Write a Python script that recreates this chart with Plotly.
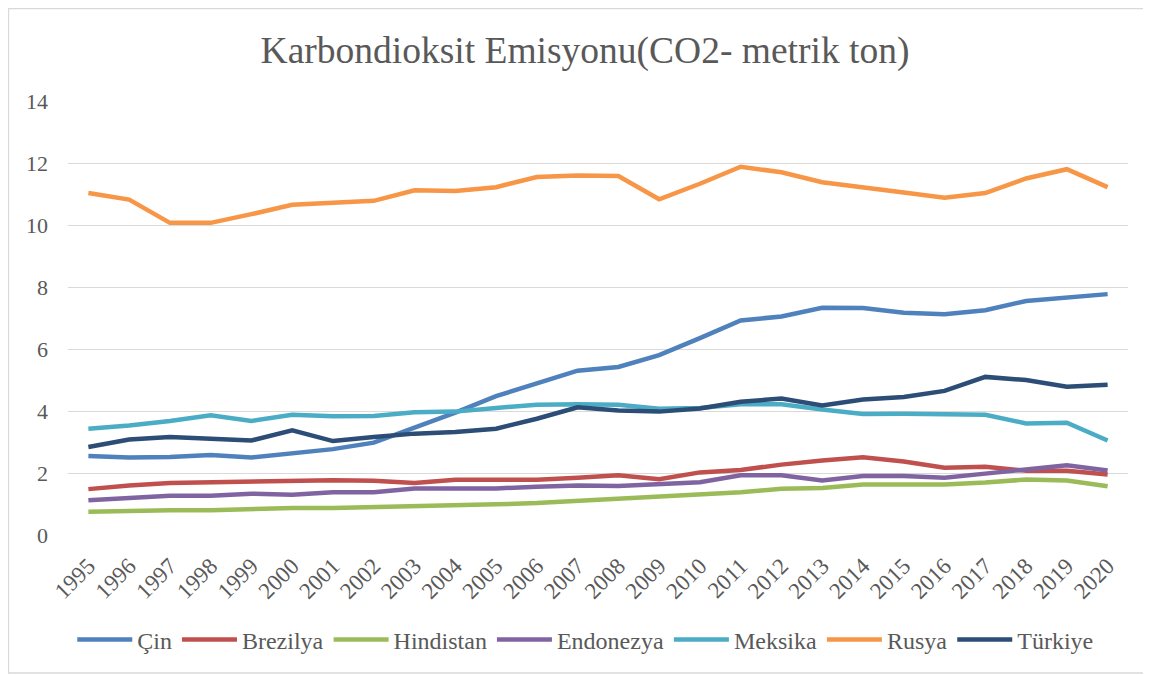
import plotly.graph_objects as go

years = [str(y) for y in range(1995, 2021)]

cin = [2.55, 2.50, 2.52, 2.58, 2.50, 2.63, 2.77, 2.98, 3.45, 3.95, 4.48, 4.90, 5.30, 5.42, 5.80, 6.35, 6.92, 7.05, 7.33, 7.32, 7.17, 7.12, 7.25, 7.55, 7.66, 7.77]
brezilya = [1.48, 1.60, 1.68, 1.70, 1.73, 1.77, 1.77, 1.75, 1.68, 1.78, 1.78, 1.78, 1.85, 1.93, 1.80, 2.02, 2.10, 2.27, 2.40, 2.51, 2.37, 2.17, 2.20, 2.07, 2.07, 1.95]
hindistan = [0.75, 0.78, 0.80, 0.80, 0.85, 0.87, 0.87, 0.90, 0.90, 0.96, 0.99, 1.03, 1.10, 1.17, 1.27, 1.32, 1.38, 1.49, 1.52, 1.63, 1.63, 1.63, 1.69, 1.79, 1.76, 1.57]
endonezya = [1.12, 1.18, 1.27, 1.27, 1.33, 1.30, 1.38, 1.38, 1.50, 1.50, 1.50, 1.56, 1.60, 1.58, 1.63, 1.70, 1.93, 1.93, 1.76, 1.90, 1.90, 1.85, 1.98, 2.13, 2.25, 2.08]
meksika = [3.43, 3.53, 3.68, 3.86, 3.68, 3.88, 3.83, 3.84, 3.96, 3.98, 4.10, 4.20, 4.22, 4.20, 4.07, 4.10, 4.22, 4.22, 4.05, 3.90, 3.91, 3.91, 3.88, 3.60, 3.62, 3.05]
rusya = [11.03, 10.82, 10.07, 10.07, 10.35, 10.65, 10.72, 10.78, 11.12, 11.10, 11.22, 11.55, 11.60, 11.58, 10.83, 11.33, 11.88, 11.70, 11.38, 11.20, 11.05, 10.88, 11.03, 11.50, 11.80, 11.22]
turkiye = [2.84, 3.08, 3.16, 3.12, 3.05, 3.38, 3.03, 3.16, 3.27, 3.32, 3.43, 3.75, 4.12, 4.02, 3.98, 4.08, 4.30, 4.40, 4.18, 4.37, 4.45, 4.65, 5.10, 5.00, 4.78, 4.85]

series = [
    ("Çin", cin, "#4F81BD"),
    ("Brezilya", brezilya, "#C0504D"),
    ("Hindistan", hindistan, "#9BBB59"),
    ("Endonezya", endonezya, "#8064A2"),
    ("Meksika", meksika, "#4BACC6"),
    ("Rusya", rusya, "#F79646"),
    ("Türkiye", turkiye, "#2C4D75"),
]

FONT = "Liberation Serif, Times New Roman, serif"
GRAY = "#595959"

fig = go.Figure()
for name, vals, color in series:
    fig.add_trace(go.Scatter(x=years, y=vals, name=name, mode="lines",
                             line=dict(color=color, width=4.5)))

# page has an 8px body margin, so the figure is sized to fit the window
W, H = 1143, 667
L, T = 60, 93
pw, ph = 1060, 434
R, B = W - L - pw, H - T - ph

fig.update_layout(
    width=W, height=H,
    margin=dict(l=L, r=R, t=T, b=B),
    paper_bgcolor="white", plot_bgcolor="white",
    font=dict(family=FONT, color=GRAY, size=22),
    title=dict(text="Karbondioksit Emisyonu(CO2- metrik ton)", x=577 / W, xanchor="center",
               y=1 - 42 / H, yanchor="middle",
               font=dict(family=FONT, size=37.5, color=GRAY)),
    xaxis=dict(type="category", tickangle=-45, showgrid=False, showline=False,
               range=[-0.5, len(years) - 0.5], ticklabelstandoff=12,
               ticks="", tickfont=dict(family=FONT, size=23, color=GRAY)),
    yaxis=dict(range=[0, 14], dtick=2, showgrid=True, gridcolor="#D9D9D9", gridwidth=1.3,
               zeroline=False, showline=False, ticks="", ticklabelstandoff=19,
               tickfont=dict(family=FONT, size=22, color=GRAY)),
    legend=dict(orientation="h", x=0.488, xanchor="center", y=-(632 - (T + ph)) / ph, yanchor="middle",
                font=dict(family=FONT, size=24, color=GRAY), itemwidth=55,
                tracegroupgap=0),
    showlegend=True,
)

# outer chart border
fig.add_shape(type="rect", xref="paper", yref="paper",
              x0=-(L - 0.5) / pw, x1=1 + (R - 2) / pw, y0=-(B - 2) / ph, y1=1 + (T - 0.5) / ph,
              line=dict(color="#D9D9D9", width=1.3), layer="below")

fig.write_html("out.html")
